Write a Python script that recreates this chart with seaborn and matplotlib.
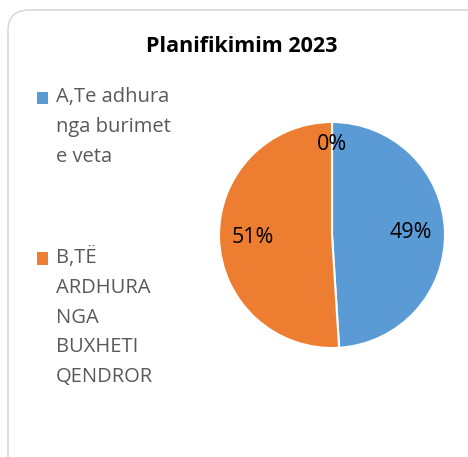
import matplotlib.pyplot as plt
import seaborn as sns
from matplotlib.legend_handler import HandlerPatch
from matplotlib.patches import FancyBboxPatch, Rectangle

categories = ["A,Te adhura\nnga burimet\ne veta", "B,TË\nARDHURA\nNGA\nBUXHETI\nQENDROR", ""]
shares = [49, 51, 0]
colors = ["#5B9BD5", "#ED7D31", "#A5A5A5"]
title = "Planifikimim 2023"


class TopSquare(HandlerPatch):
    """Legend square lined up with the first line of a multi-line label."""

    def __init__(self, lift, **kw):
        super().__init__(**kw)
        self.lift = lift

    def create_artists(self, legend, orig_handle, xdescent, ydescent,
                       width, height, fontsize, trans):
        p = Rectangle((-xdescent, -ydescent + self.lift), width, height,
                      facecolor=orig_handle.get_facecolor(), edgecolor="none",
                      transform=trans)
        return [p]


sns.set_theme(style="white")
plt.rcParams["font.family"] = ["Open Sans", "DejaVu Sans"]

W, H = 468, 457
fig = plt.figure(figsize=(W / 100, H / 100), dpi=100)
fig.patch.set_facecolor("white")

# rounded chart-area border, running off the right and bottom edges
border = FancyBboxPatch((8 / W, -0.1), 1.2, 1 - 10 / H + 0.1,
                        boxstyle="round,pad=0,rounding_size=0.045",
                        transform=fig.transFigure, facecolor="none",
                        edgecolor="#D9D9D9", linewidth=1.2, zorder=-1)
fig.patches.append(border)

cx, cy, r = 332, 235, 113
ax = fig.add_axes([(cx - r) / W, 1 - (cy + r) / H, 2 * r / W, 2 * r / H])
ax.patch.set_alpha(0)
wedges, texts, autotexts = ax.pie(
    shares, colors=colors, startangle=90, counterclock=False,
    autopct="%1.0f%%", pctdistance=0.7,
    wedgeprops=dict(edgecolor="white", linewidth=1.5),
    textprops=dict(fontsize=15.5, color="black"))
# push the 0% label out a bit
x0, y0 = autotexts[2].get_position()
autotexts[2].set_position((x0 * 0.8 / 0.7, y0 * 0.8 / 0.7))
ax.set_xlim(-1, 1)
ax.set_ylim(-1, 1)
ax.set_aspect("equal")

fig.text(242 / W, 1 - 47 / H, title, ha="center", va="center",
         fontsize=15.5, fontweight="bold", color="black")

line_pt = 29.5 * 0.72
leg = fig.legend(wedges[:2], categories[:2], loc="upper left",
                 bbox_to_anchor=(29 / W, 1 - 79 / H), frameon=False,
                 fontsize=14.5, handlelength=0.55, handleheight=0.55,
                 handletextpad=0.4, labelspacing=4.0, borderaxespad=0,
                 handler_map={wedges[0]: TopSquare(line_pt),
                              wedges[1]: TopSquare(2 * line_pt)})
for t in leg.get_texts():
    t.set_color("#595959")
    t.set_linespacing(1.65)

fig.savefig("out.png", dpi=100)
